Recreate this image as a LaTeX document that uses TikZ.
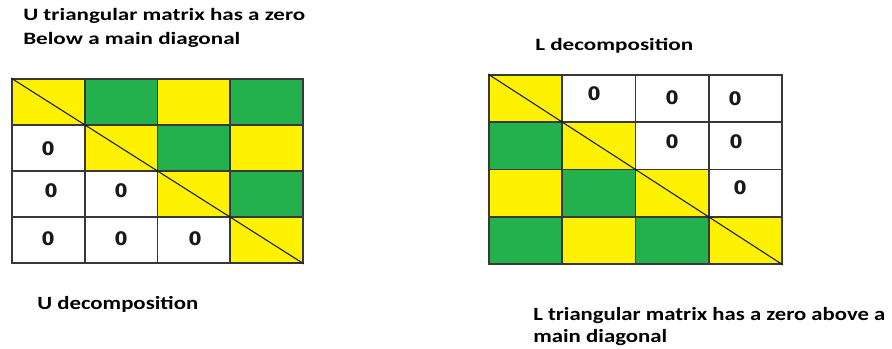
\documentclass[tikz,border=0pt]{standalone}
\usepackage{graphicx}
\usepackage{fontspec}
\setmainfont{Carlito}
\newfontfamily\zerofont{DejaVu Sans}
\definecolor{ygold}{HTML}{FFF200}
\definecolor{pgreen}{HTML}{22B14C}
\definecolor{gridgray}{HTML}{383838}
\newsavebox\fitbox
\newcommand\fitw[2]{\sbox\fitbox{#2}\pgfmathsetmacro\fitsx{#1/\the\wd\fitbox}\scalebox{\fitsx}[1]{\usebox\fitbox}}
\begin{document}
\begin{tikzpicture}[x=0.75pt,y=-0.75pt,
  ucell/.style={draw=gridgray, line width=1.3pt, minimum width=54.56pt, minimum height=34.5pt, inner sep=0pt},
  lcell/.style={draw=gridgray, line width=1.3pt, minimum width=54.94pt, minimum height=35.44pt, inner sep=0pt},
  yel/.style={fill=ygold},
  grn/.style={fill=pgreen},
  wht/.style={fill=white},
  zero/.style={inner sep=0pt, font=\zerofont\bfseries\fontsize{14}{16}\selectfont, text=black!90},
  diagline/.style={draw=black!90, line width=0.8pt},
  toptext/.style={anchor=base west, inner sep=0pt, font=\bfseries\fontsize{13}{15}\selectfont},
  bottext/.style={anchor=base west, inner sep=0pt, font=\bfseries\fontsize{14}{16}\selectfont}]
\useasboundingbox (0,0) rectangle (892,349);
% titles
\node[toptext] (t1) at (23,21) {\fitw{211.5}{U triangular matrix has a zero}};
\node[toptext] (t2) at (23,45) {\fitw{162.75}{Below a main diagonal}};
\node[toptext] (t3) at (535,51) {\fitw{118.5}{L decomposition}};
\node[bottext] (t4) at (37,309) {\fitw{120.75}{U decomposition}};
\node[bottext] (t5) at (533,320) {\fitw{264}{L triangular matrix has a zero above a}};
\node[bottext] (t6) at (533,342) {\fitw{100.5}{main diagonal}};
% U matrix
\node[ucell,yel] (u11) at (48.4,102) {};
\node[ucell,grn] (u12) at (121.1,102) {};
\node[ucell,yel] (u13) at (193.9,102) {};
\node[ucell,grn] (u14) at (266.6,102) {};
\node[ucell,wht] (u21) at (48.4,148) {};
\node[ucell,yel] (u22) at (121.1,148) {};
\node[ucell,grn] (u23) at (193.9,148) {};
\node[ucell,yel] (u24) at (266.6,148) {};
\node[ucell,wht] (u31) at (48.4,194) {};
\node[ucell,wht] (u32) at (121.1,194) {};
\node[ucell,yel] (u33) at (193.9,194) {};
\node[ucell,grn] (u34) at (266.6,194) {};
\node[ucell,wht] (u41) at (48.4,240) {};
\node[ucell,wht] (u42) at (121.1,240) {};
\node[ucell,wht] (u43) at (193.9,240) {};
\node[ucell,yel] (u44) at (266.6,240) {};
\draw[diagline] (u11.north west) -- (u44.south east);
\node[zero] (zu21) at (48,149) {0};
\node[zero] (zu31) at (51,191) {0};
\node[zero] (zu32) at (121,191) {0};
\node[zero] (zu41) at (48,239) {0};
\node[zero] (zu42) at (121,239) {0};
\node[zero] (zu43) at (195,239) {0};
% L matrix
\node[lcell,yel] (l11) at (525.6,98.6) {};
\node[lcell,wht] (l12) at (598.9,98.6) {};
\node[lcell,wht] (l13) at (672.1,98.6) {};
\node[lcell,wht] (l14) at (745.4,98.6) {};
\node[lcell,grn] (l21) at (525.6,145.9) {};
\node[lcell,yel] (l22) at (598.9,145.9) {};
\node[lcell,wht] (l23) at (672.1,145.9) {};
\node[lcell,wht] (l24) at (745.4,145.9) {};
\node[lcell,yel] (l31) at (525.6,193.1) {};
\node[lcell,grn] (l32) at (598.9,193.1) {};
\node[lcell,yel] (l33) at (672.1,193.1) {};
\node[lcell,wht] (l34) at (745.4,193.1) {};
\node[lcell,grn] (l41) at (525.6,240.4) {};
\node[lcell,yel] (l42) at (598.9,240.4) {};
\node[lcell,grn] (l43) at (672.1,240.4) {};
\node[lcell,yel] (l44) at (745.4,240.4) {};
\draw[diagline] (l11.north west) -- (l44.south east);
\node[zero] (zl12) at (594,94) {0};
\node[zero] (zl13) at (672,98) {0};
\node[zero] (zl14) at (735,99) {0};
\node[zero] (zl23) at (672,142) {0};
\node[zero] (zl24) at (736,142) {0};
\node[zero] (zl34) at (740,188) {0};
\end{tikzpicture}
\end{document}
